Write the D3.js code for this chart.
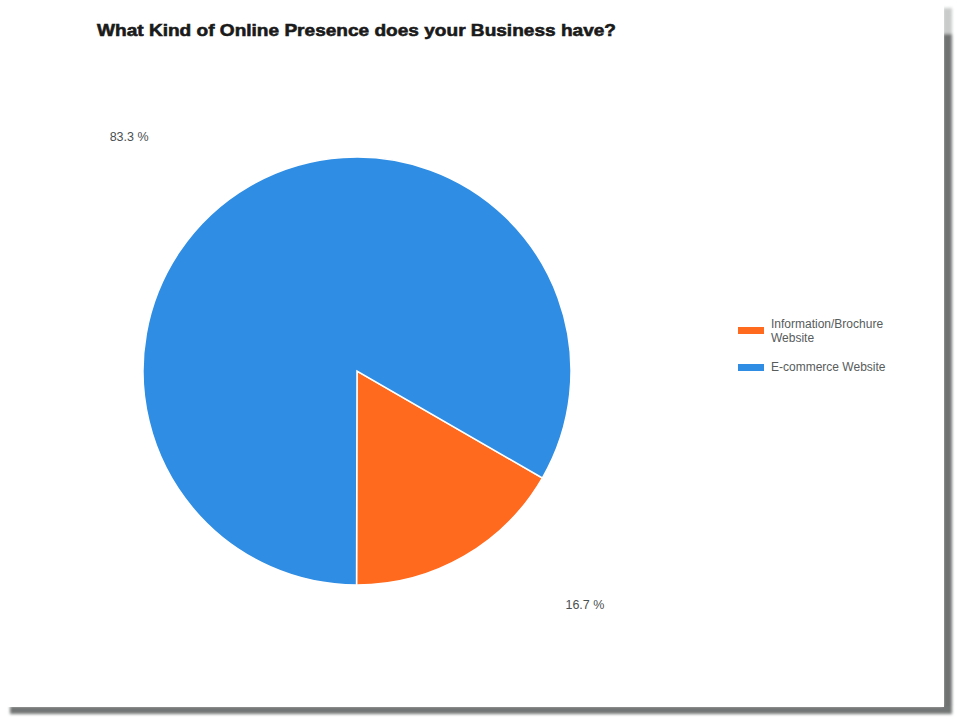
<!DOCTYPE html>
<html>
<head>
<meta charset="utf-8">
<script src="https://cdn.jsdelivr.net/npm/d3@7"></script>
<style>
  html, body { margin: 0; padding: 0; background: #fff; }
  svg { display: block; }
</style>
</head>
<body>
<svg id="chart" width="957" height="720"></svg>
<script>
// Survey answers and their shares
const categories = ["Information/Brochure Website", "E-commerce Website"];
const shares = [16.7, 83.3];
const colors = ["#FF6A1E", "#2F8DE3"];
const legendLines = [["Information/Brochure", "Website"], ["E-commerce Website"]];
const title = "What Kind of Online Presence does your Business have?";

const svg = d3.select("#chart");
const font = "Liberation Sans, Arial, sans-serif";

// Card shadow along the right and bottom edges
const defs = svg.append("defs");
defs.append("filter").attr("id", "soft")
  .append("feGaussianBlur").attr("stdDeviation", 1.6);
const shadow = svg.append("g").attr("filter", "url(#soft)");
shadow.append("rect").attr("x", 943).attr("y", 30).attr("width", 9).attr("height", 684).attr("fill", "#6f7272");
shadow.append("rect").attr("x", 943).attr("y", 8).attr("width", 9).attr("height", 26).attr("fill", "#c9cbcb");
shadow.append("rect").attr("x", 10).attr("y", 706).attr("width", 942).attr("height", 8).attr("fill", "#737676");

// White card
svg.append("rect").attr("x", 0).attr("y", 0).attr("width", 944).attr("height", 707).attr("fill", "#ffffff");

// Title
svg.append("text")
  .attr("x", 97).attr("y", 36)
  .attr("font-family", font)
  .attr("font-weight", "bold")
  .attr("font-size", 17)
  .attr("fill", "#1a1a1a")
  .attr("stroke", "#1a1a1a")
  .attr("stroke-width", 0.6)
  .attr("textLength", 519)
  .attr("lengthAdjust", "spacingAndGlyphs")
  .text(title);

// Pie
const cx = 357, cy = 371, r = 214;
const startDeg = 120;
const pie = d3.pie().sort(null).value(d => d)
  .startAngle(startDeg * Math.PI / 180)
  .endAngle(startDeg * Math.PI / 180 + 2 * Math.PI);
const arcs = pie(shares);
const arc = d3.arc().innerRadius(0).outerRadius(r);
const colorScale = d3.scaleOrdinal().domain(categories).range(colors);

const g = svg.append("g").attr("transform", `translate(${cx},${cy})`);
g.selectAll("path").data(arcs).join("path")
  .attr("d", arc)
  .attr("fill", (d, i) => colorScale(categories[i]))
  .attr("stroke", "#ffffff")
  .attr("stroke-width", 1.5);

// Percentage labels placed outside the pie, beyond each slice's midpoint
g.selectAll("text.pct").data(arcs).join("text")
  .attr("class", "pct")
  .attr("transform", d => {
    const a = (d.startAngle + d.endAngle) / 2;
    const x = Math.sign(Math.sin(a)) * r * 1.065;
    const y = -Math.cos(a) * r * 1.262;
    return `translate(${x},${y})`;
  })
  .attr("text-anchor", "middle")
  .attr("dy", "0.35em")
  .attr("font-family", font)
  .attr("font-size", 12.5)
  .attr("fill", "#4a5050")
  .text(d => d3.format(".1f")(d.data) + " %");

// Legend
const legend = svg.append("g").attr("transform", "translate(738,330)");
const rowY = [0, 37];
categories.forEach((c, i) => {
  const row = legend.append("g").attr("transform", `translate(0,${rowY[i]})`);
  row.append("rect").attr("x", 0).attr("y", -3).attr("width", 26).attr("height", 7)
    .attr("fill", colorScale(c));
  const t = row.append("text")
    .attr("y", legendLines[i].length > 1 ? -6 : 0)
    .attr("font-family", font)
    .attr("font-size", 12)
    .attr("fill", "#575c5c");
  legendLines[i].forEach((line, j) => {
    t.append("tspan").attr("x", 33).attr("dy", j === 0 ? "0.35em" : "13.5").text(line);
  });
});
</script>
</body>
</html>
